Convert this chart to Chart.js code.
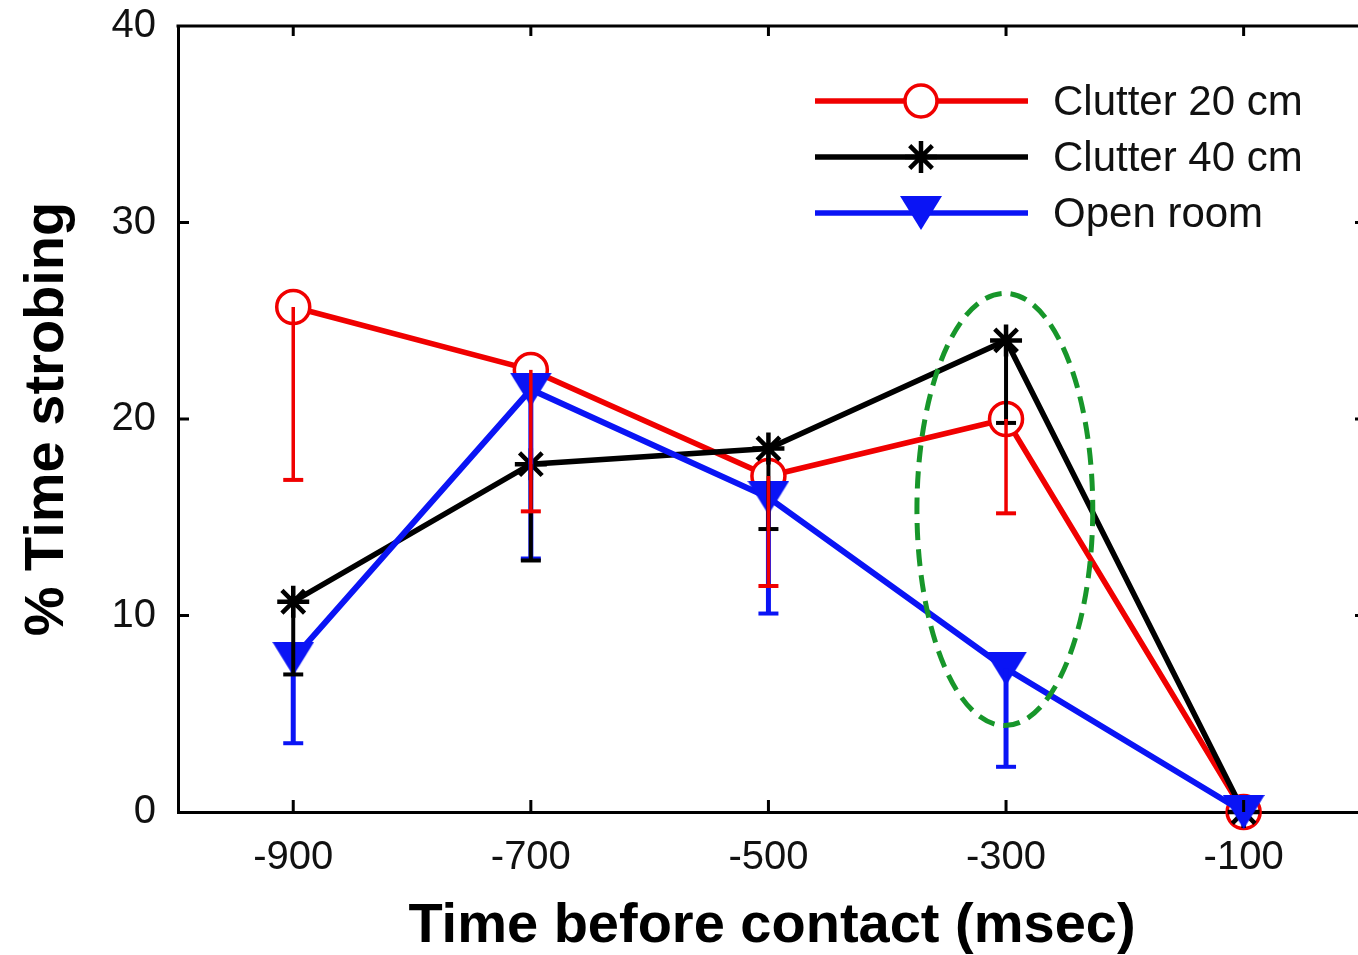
<!DOCTYPE html>
<html>
<head>
<meta charset="utf-8">
<title>% Time strobing</title>
<script src="https://cdn.jsdelivr.net/npm/chart.js@4.4.1/dist/chart.umd.min.js"></script>
<style>
  html, body { margin: 0; padding: 0; background: #fff; overflow: hidden; }
  #wrap { position: relative; width: 1392px; height: 955px; }
</style>
</head>
<body>
<div id="wrap"><canvas id="strobeChart"></canvas></div>
<script>
// time bins before contact (msec)
const timeBins = [-900, -700, -500, -300, -100];
const xTickValues = [-900, -700, -500, -300, -100];
const yTickValues = [0, 10, 20, 30, 40];

// % time strobing per condition, plus the lower end of each error bar
const clutter20 = [25.7, 22.5, 17.1, 20.0, 0];
const clutter20Low = [16.9, 15.3, 11.5, 15.2, null];
const clutter40 = [10.7, 17.7, 18.5, 24.0, 0];
const clutter40Low = [7.0, 12.8, 14.4, 19.8, null];
const openRoom = [7.8, 21.5, 16.0, 7.3, 0];
const openRoomLow = [3.5, 12.9, 10.1, 2.3, null];

const seriesNames = ['Clutter 20 cm', 'Clutter 40 cm', 'Open room'];

// dashed ring around the -300 ms bin (centre and half-axes in data units)
const highlight = { x: -301, y: 15.4, rx: 74, ry: 11 };

const FONT = "'Liberation Sans', Arial, Helvetica, sans-serif";
const RED = '#f00000';
const BLACK = '#000000';
const BLUE = '#0a14f5';
const GREEN = '#17962a';

function makeTriangle(color, w, h) {
    const c = document.createElement('canvas');
    c.width = w;
    c.height = h;
    const g = c.getContext('2d');
    g.fillStyle = color;
    g.beginPath();
    g.moveTo(0, 0);
    g.lineTo(w, 0);
    g.lineTo(w / 2, h);
    g.closePath();
    g.fill();
    return c;
}

const downTriangle = makeTriangle(BLUE, 42, 34);

function points(vals) {
    return timeBins.map((t, i) => ({ x: t, y: vals[i] }));
}

// lower error bars, drawn over the lines
const errorBars = {
    id: 'errorBars',
    afterDatasetsDraw(chart) {
        const { ctx, scales: { x, y } } = chart;
        const sets = [
            { low: openRoomLow, vals: openRoom, color: BLUE, width: 5 },
            { low: clutter40Low, vals: clutter40, color: BLACK, width: 4 },
            { low: clutter20Low, vals: clutter20, color: RED, width: 3.5 }
        ];
        ctx.save();
        sets.forEach(s => {
            ctx.strokeStyle = s.color;
            timeBins.forEach((t, i) => {
                if (s.low[i] == null) return;
                const px = x.getPixelForValue(t);
                const top = y.getPixelForValue(s.vals[i]);
                const bot = y.getPixelForValue(s.low[i]);
                ctx.lineWidth = s.width;
                ctx.beginPath();
                ctx.moveTo(px, top);
                ctx.lineTo(px, bot);
                ctx.stroke();
                ctx.lineWidth = 4;
                ctx.beginPath();
                ctx.moveTo(px - 10, bot);
                ctx.lineTo(px + 10, bot);
                ctx.stroke();
            });
        });
        ctx.restore();
    }
};

// box frame with inward ticks, highlight ring and legend
const decorations = {
    id: 'decorations',
    afterDraw(chart) {
        const { ctx, chartArea: a, scales: { x, y } } = chart;
        ctx.save();
        ctx.strokeStyle = '#000';
        ctx.lineWidth = 3;
        ctx.beginPath();
        ctx.moveTo(a.left - 1.5, a.top);
        ctx.lineTo(a.right, a.top);
        ctx.lineTo(a.right, a.bottom);
        ctx.stroke();

        ctx.lineWidth = 3;
        xTickValues.forEach(v => {
            const px = x.getPixelForValue(v);
            ctx.beginPath();
            ctx.moveTo(px, a.bottom);
            ctx.lineTo(px, a.bottom - 12);
            ctx.moveTo(px, a.top);
            ctx.lineTo(px, a.top + 10);
            ctx.stroke();
        });
        yTickValues.slice(1, -1).forEach(v => {
            const py = y.getPixelForValue(v);
            ctx.beginPath();
            ctx.moveTo(a.left, py);
            ctx.lineTo(a.left + 11, py);
            ctx.moveTo(a.right, py);
            ctx.lineTo(a.right - 11, py);
            ctx.stroke();
        });

        // dashed ring
        const cx = x.getPixelForValue(highlight.x);
        const cy = y.getPixelForValue(highlight.y);
        const rx = Math.abs(x.getPixelForValue(highlight.x + highlight.rx) - cx);
        const ry = Math.abs(y.getPixelForValue(highlight.y + highlight.ry) - cy);
        ctx.strokeStyle = GREEN;
        ctx.lineWidth = 5;
        ctx.setLineDash([17, 9]);
        ctx.beginPath();
        ctx.ellipse(cx, cy, rx, ry, 0, 0, Math.PI * 2);
        ctx.stroke();
        ctx.setLineDash([]);

        // legend
        const rows = [
            { color: RED, style: 'circle', radius: 16, bw: 3.5, fill: '#fff' },
            { color: BLACK, style: 'star', radius: 16, bw: 4.5, fill: BLACK },
            { color: BLUE, style: downTriangle, radius: 0, bw: 0, fill: BLUE }
        ];
        ctx.font = '42px ' + FONT;
        ctx.textBaseline = 'middle';
        ctx.textAlign = 'left';
        rows.forEach((r, i) => {
            const ly = 101 + i * 56;
            ctx.strokeStyle = r.color;
            ctx.lineWidth = 5.5;
            ctx.beginPath();
            ctx.moveTo(815, ly);
            ctx.lineTo(1028, ly);
            ctx.stroke();
            ctx.fillStyle = r.fill;
            ctx.lineWidth = r.bw;
            Chart.helpers.drawPoint(ctx, {
                pointStyle: r.style, radius: r.radius, borderWidth: r.bw, rotation: 0
            }, 921, ly);
            ctx.fillStyle = '#111';
            ctx.fillText(seriesNames[i], 1053, ly + 2);
        });
        ctx.restore();
    }
};

const ctx = document.getElementById('strobeChart').getContext('2d');
new Chart(ctx, {
    type: 'line',
    data: {
        datasets: [
            {
                label: seriesNames[0],
                data: points(clutter20),
                borderColor: RED,
                borderWidth: 5.5,
                pointStyle: 'circle',
                pointRadius: 16.5,
                pointBorderWidth: 3.5,
                pointBorderColor: RED,
                pointBackgroundColor: '#fff',
                order: 3
            },
            {
                label: seriesNames[1],
                data: points(clutter40),
                borderColor: BLACK,
                borderWidth: 5.5,
                pointStyle: 'star',
                pointRadius: 16,
                pointBorderWidth: 4.5,
                pointBorderColor: BLACK,
                pointBackgroundColor: BLACK,
                order: 2
            },
            {
                label: seriesNames[2],
                data: points(openRoom),
                borderColor: BLUE,
                borderWidth: 6,
                pointStyle: downTriangle,
                pointRadius: 20,
                pointBorderColor: BLUE,
                pointBackgroundColor: BLUE,
                order: 1
            }
        ]
    },
    options: {
        responsive: true,
        maintainAspectRatio: false,
        animation: false,
        clip: false,
        layout: { padding: { top: 25, right: 3, left: 0, bottom: 0 } },
        elements: { line: { tension: 0 } },
        plugins: {
            legend: { display: false },
            tooltip: { enabled: false }
        },
        scales: {
            x: {
                type: 'linear',
                min: -997,
                max: 3,
                afterBuildTicks: s => { s.ticks = xTickValues.map(v => ({ value: v })); },
                afterFit: s => { s.height = 143; s.paddingLeft = 0; s.paddingRight = 0; },
                grid: { display: false, drawTicks: false },
                border: { display: true, color: '#000', width: 3 },
                ticks: { color: '#111', padding: 22, font: { family: FONT, size: 40 } },
                title: {
                    display: true,
                    text: 'Time before contact (msec)',
                    color: '#000',
                    font: { family: FONT, size: 56, weight: 'bold', lineHeight: 1 },
                    padding: { top: 0, bottom: 0 }
                }
            },
            y: {
                min: 0,
                max: 40,
                afterBuildTicks: s => { s.ticks = yTickValues.map(v => ({ value: v })); },
                afterFit: s => { s.width = 178; s.paddingTop = 0; s.paddingBottom = 0; },
                grid: { display: false, drawTicks: false },
                border: { display: true, color: '#000', width: 3 },
                ticks: { color: '#111', padding: 22, font: { family: FONT, size: 40 } },
                title: {
                    display: true,
                    text: '% Time strobing',
                    color: '#000',
                    font: { family: FONT, size: 56, weight: 'bold', lineHeight: 1 },
                    padding: { top: 20, bottom: 0 }
                }
            }
        }
    },
    plugins: [errorBars, decorations]
});
</script>
</body>
</html>
